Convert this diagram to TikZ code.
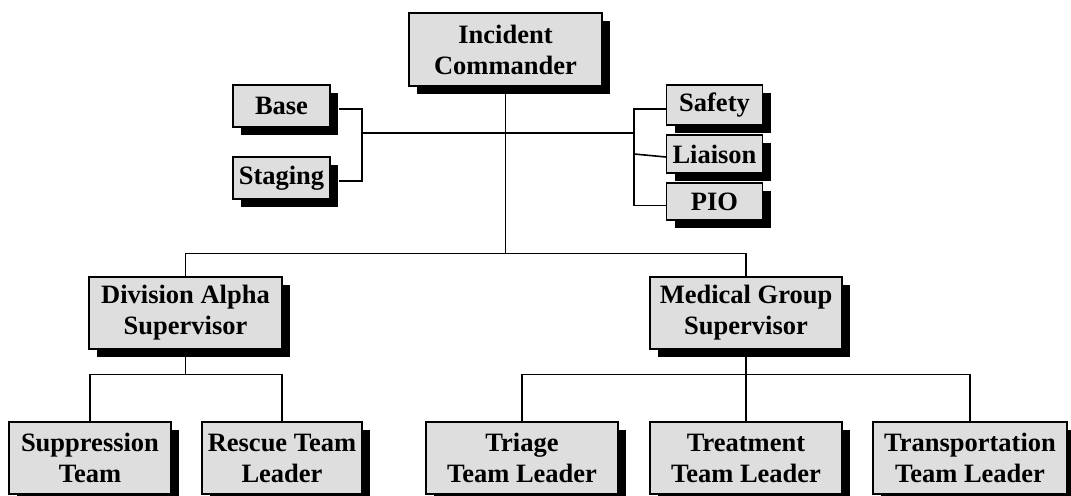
\documentclass[tikz,border=0pt]{standalone}
\usepackage{fontspec}
\setmainfont{Liberation Serif}
\usepackage{tikz}
\usetikzlibrary{calc,positioning,shadows}
\definecolor{boxgray}{HTML}{DEDEDE}

\tikzset{
  orgbox/.style={draw=black, fill=boxgray, line width=1.1bp, inner sep=0pt,
                 align=center, font=\bfseries\fontsize{26.5bp}{31bp}\selectfont,
                 drop shadow={shadow xshift=8bp, shadow yshift=-8bp, fill=black, opacity=1}},
  link/.style={draw=black, line width=1.6bp}
}

\begin{document}
\begin{tikzpicture}[x=1bp, y=-1bp]
  \useasboundingbox (0,0) rectangle (1071,496);

  % top level and staff
  \node[orgbox, minimum width=193bp, minimum height=73bp] (ic) at (505.5,49.5) {Incident\\Commander};
  \node[orgbox, minimum width=97bp, minimum height=42bp] (base) at (281.5,106) {Base};
  \node[orgbox, minimum width=97bp, minimum height=42bp] (staging) at (281.5,178) {Staging};
  \node[orgbox, minimum width=96bp, minimum height=40bp] (safety) at (714.5,105) {Safety};
  \node[orgbox, minimum width=96bp, minimum height=38bp] (liaison) at (714.5,154) {Liaison};
  \node[orgbox, minimum width=96bp, minimum height=37bp] (pio) at (714.5,201.5) {PIO};

  % sections
  \node[orgbox, minimum width=193bp, minimum height=72bp] (divalpha) at (185.5,313) {Division Alpha\\Supervisor};
  \node[orgbox, minimum width=192bp, minimum height=72bp] (medgroup) at (746,313) {Medical Group\\Supervisor};

  % teams
  \node[orgbox, minimum width=162bp, minimum height=72bp] (suppr) at (90,458) {Suppression\\Team};
  \node[orgbox, minimum width=160bp, minimum height=72bp] (rescue) at (282,458) {Rescue Team\\Leader};
  \node[orgbox, minimum width=192bp, minimum height=72bp] (triage) at (522,458) {Triage\\Team Leader};
  \node[orgbox, minimum width=192bp, minimum height=72bp] (treat) at (746,458) {Treatment\\Team Leader};
  \node[orgbox, minimum width=194bp, minimum height=72bp] (transp) at (970,458) {Transportation\\Team Leader};

  % connectors
  \coordinate (lb) at (362,133);
  \coordinate (rb) at (634,133);
  \draw[link] (ic.south) -- ++(0,167) coordinate (mid);
  \draw[link] (lb) -- (rb);
  \draw[link] ([xshift=8bp,yshift=-3bp]base.east) -| (lb) |- ([xshift=8bp,yshift=-3bp]staging.east);
  \draw[link] ([yshift=-4bp]safety.west) -| (rb) |- ([yshift=-4bp]pio.west);
  \draw[link] (rb |- liaison.west) -- ([yshift=-3bp]liaison.west);
  \draw[link] (divalpha.north) |- (mid) -| (medgroup.north);

  \draw[link] (divalpha.south) -- ++(0,25) coordinate (dj);
  \draw[link] (suppr.north) |- (dj) -| (rescue.north);
  \draw[link] (medgroup.south) -- (treat.north);
  \draw[link] (medgroup.south) ++(0,25) coordinate (mj);
  \draw[link] (triage.north) |- (mj) -| (transp.north);
\end{tikzpicture}
\end{document}
